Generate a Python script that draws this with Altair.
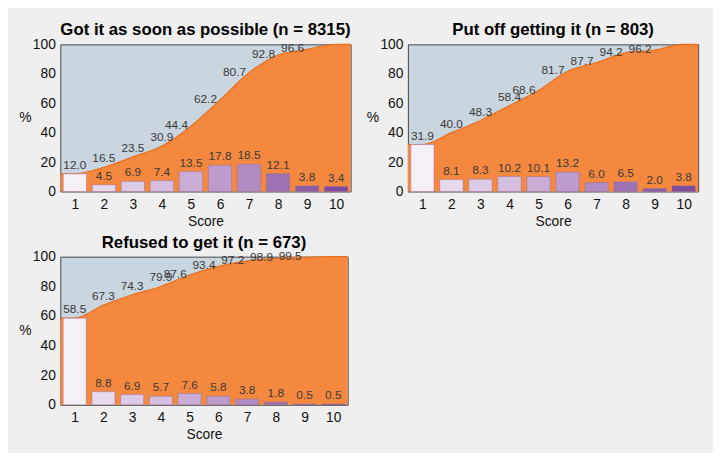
import altair as alt
import pandas as pd

scores = [1, 2, 3, 4, 5, 6, 7, 8, 9, 10]

titles = [
    "Got it as soon as possible (n = 8315)",
    "Put off getting it (n = 803)",
    "Refused to get it (n = 673)",
]

pct_asap = [12.0, 4.5, 6.9, 7.4, 13.5, 17.8, 18.5, 12.1, 3.8, 3.4]
cum_asap = [12.0, 16.5, 23.5, 30.9, 44.4, 62.2, 80.7, 92.8, 96.6, 100.0]

pct_putoff = [31.9, 8.1, 8.3, 10.2, 10.1, 13.2, 6.0, 6.5, 2.0, 3.8]
cum_putoff = [31.9, 40.0, 48.3, 58.4, 68.6, 81.7, 87.7, 94.2, 96.2, 100.0]

pct_refused = [58.5, 8.8, 6.9, 5.7, 7.6, 5.8, 3.8, 1.8, 0.5, 0.5]
cum_refused = [58.5, 67.3, 74.3, 79.9, 87.6, 93.4, 97.2, 98.9, 99.5, 100.0]

y_ticks = [0, 20, 40, 60, 80, 100]

FONT = "Liberation Sans"
ORANGE = "#f5883f"
ORANGE_LINE = "#ea6f1c"
PLOT_BG = "#c9d5df"
PURPLES = ["#f5eff8", "#e6dbee", "#dccbe6", "#d4bfe0", "#c9add7",
           "#bd9bcd", "#b18bc3", "#9d72b3", "#8b5ea7", "#7f4c9d"]
TEXT = "#3a3a3a"

XS = alt.Scale(domain=[0.5, 10.5], nice=False, zero=False)
YS = alt.Scale(domain=[0, 100], nice=False)


def panel(title, pct, cum, w, h):
    df = pd.DataFrame({"score": scores, "pct": pct, "cum": cum})
    # area spans the whole band: hold first value at the left edge, last at the right edge
    area_df = pd.DataFrame({
        "x": [scores[0] - 0.5] + scores + [scores[-1] + 0.5],
        "cum": [cum[0]] + cum + [cum[-1]],
    })
    x_axis = alt.Axis(values=scores, format="d", title="Score")
    y_axis = alt.Axis(values=y_ticks, title="%", titleAngle=0, titleX=-36, titleY=h / 2,
                      titleAlign="center", titleBaseline="middle")

    area = alt.Chart(area_df).mark_area(
        color=ORANGE, opacity=1, interpolate="monotone",
        line={"color": ORANGE_LINE, "strokeWidth": 1.2}
    ).encode(
        x=alt.X("x:Q", scale=XS, axis=x_axis, title="Score"),
        y=alt.Y("cum:Q", scale=YS, axis=y_axis, title="%"),
    )

    base = alt.Chart(df)
    bars = base.transform_calculate(
        x0="datum.score - 0.4", x1="datum.score + 0.4"
    ).mark_bar(stroke="#8e6aa6", strokeWidth=0.8, strokeOpacity=0.55, opacity=1).encode(
        x=alt.X("x0:Q", scale=XS, axis=x_axis, title="Score"),
        x2="x1:Q",
        y=alt.Y("pct:Q", scale=YS, axis=y_axis, title="%"),
        y2=alt.datum(0),
        color=alt.Color("score:O", scale=alt.Scale(domain=scores, range=PURPLES), legend=None),
    )
    bar_labels = base.mark_text(baseline="bottom", dy=-2, fontSize=12, font=FONT,
                                color=TEXT).encode(
        x=alt.X("score:Q", scale=XS, axis=x_axis, title="Score"),
        y=alt.Y("pct:Q", scale=YS, axis=y_axis, title="%"),
        text=alt.Text("pct:Q", format=".1f"),
    )
    cum_low = base.transform_filter(
        "datum.score >= 2 && datum.score <= 4"
    ).mark_text(baseline="bottom", dy=-2, fontSize=12, font=FONT, color=TEXT).encode(
        x=alt.X("score:Q", scale=XS, axis=x_axis, title="Score"),
        y=alt.Y("cum:Q", scale=YS, axis=y_axis, title="%"),
        text=alt.Text("cum:Q", format=".1f"),
    )
    cum_high = base.transform_filter(
        "datum.score >= 5 && datum.score <= 9"
    ).transform_calculate(lx="datum.score - 0.5").mark_text(
        baseline="middle", dy=-1, fontSize=12, font=FONT, color=TEXT
    ).encode(
        x=alt.X("lx:Q", scale=XS, axis=x_axis, title="Score"),
        y=alt.Y("cum:Q", scale=YS, axis=y_axis, title="%"),
        text=alt.Text("cum:Q", format=".1f"),
    )
    return alt.layer(area, bars, bar_labels, cum_low, cum_high).properties(
        width=w, height=h,
        title=alt.TitleParams(title, fontSize=17, fontWeight="bold", font=FONT,
                              color="#000", anchor="middle", offset=-2, frame="group"),
    )


p1 = panel(titles[0], pct_asap, cum_asap, 294, 149)
p2 = panel(titles[1], pct_putoff, cum_putoff, 294, 149)
p3 = panel(titles[2], pct_refused, cum_refused, 291, 150)

chart = alt.vconcat(
    alt.hconcat(p1, p2, spacing=12),
    p3,
    spacing=4,
).properties(
    background="#efefef",
    padding={"left": 10, "top": 10, "right": 12, "bottom": 8},
).configure_view(
    fill=PLOT_BG, stroke="#444", strokeWidth=1
).configure_axis(
    ticks=False, domain=False, grid=False, labelOverlap=False, labelFlush=False,
    labelFontSize=14, titleFontSize=14, titleFontWeight="normal",
    labelFont=FONT, titleFont=FONT, labelColor="#111", titleColor="#111",
).configure_axisX(
    labelPadding=6, titlePadding=3,
).configure_axisY(
    labelPadding=5,
)

chart.save("out.html", embed_options={"renderer": "svg", "actions": False})
